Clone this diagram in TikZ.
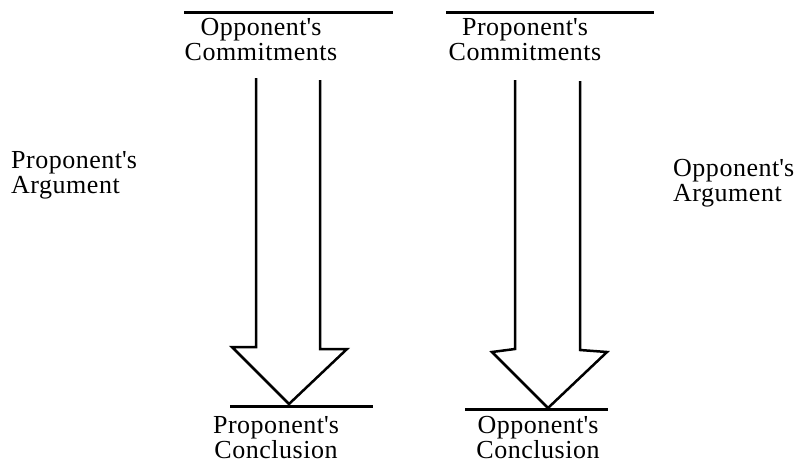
\documentclass[tikz,border=0pt]{standalone}
\usepackage{fontspec}
\setmainfont{Liberation Serif}[LetterSpace=2]
\newcommand{\apos}{\textquotesingle}
\begin{document}
\begin{tikzpicture}[x=1pt,y=-1pt,
  lbl/.style={font=\fontsize{26}{25}\selectfont, inner sep=0pt, align=center, anchor=base},
  sidelbl/.style={font=\fontsize{26}{25}\selectfont, inner sep=0pt, align=left, anchor=base west},
  rule/.style={line width=3pt},
  bigarrow/.style={line width=2.5pt, line join=miter}]
\useasboundingbox (0,0) rectangle (796,467);

% commitment stores on top (node anchor sits on the second line)
\draw[rule] (184,12) -- (393,12);
\draw[rule] (446,12) -- (654,12);
\node[lbl] (oppcom) at (261,60) {Opponent\apos s\\Commitments};
\node[lbl] (procom) at (525,60) {Proponent\apos s\\Commitments};

% side labels
\node[sidelbl] (proarg) at (11,193) {Proponent\apos s\\Argument};
\node[sidelbl] (opparg) at (673,201) {Opponent\apos s\\Argument};

% left hollow arrow
\draw[bigarrow] (256,78) -- (256,347) -- (232,347) -- (289,404) -- (347,349) -- (320,349) -- (320,80);
\draw[rule] (230,406) -- (373,406);

% right hollow arrow
\draw[bigarrow] (515,80) -- (515,349) -- (492,352) -- (548,408) -- (607,352) -- (580,350) -- (580,81);
\draw[rule] (465,409) -- (608,409);

% conclusions
\node[lbl] (procon) at (276,458) {Proponent\apos s\\Conclusion};
\node[lbl] (oppcon) at (538,458) {Opponent\apos s\\Conclusion};
\end{tikzpicture}
\end{document}
